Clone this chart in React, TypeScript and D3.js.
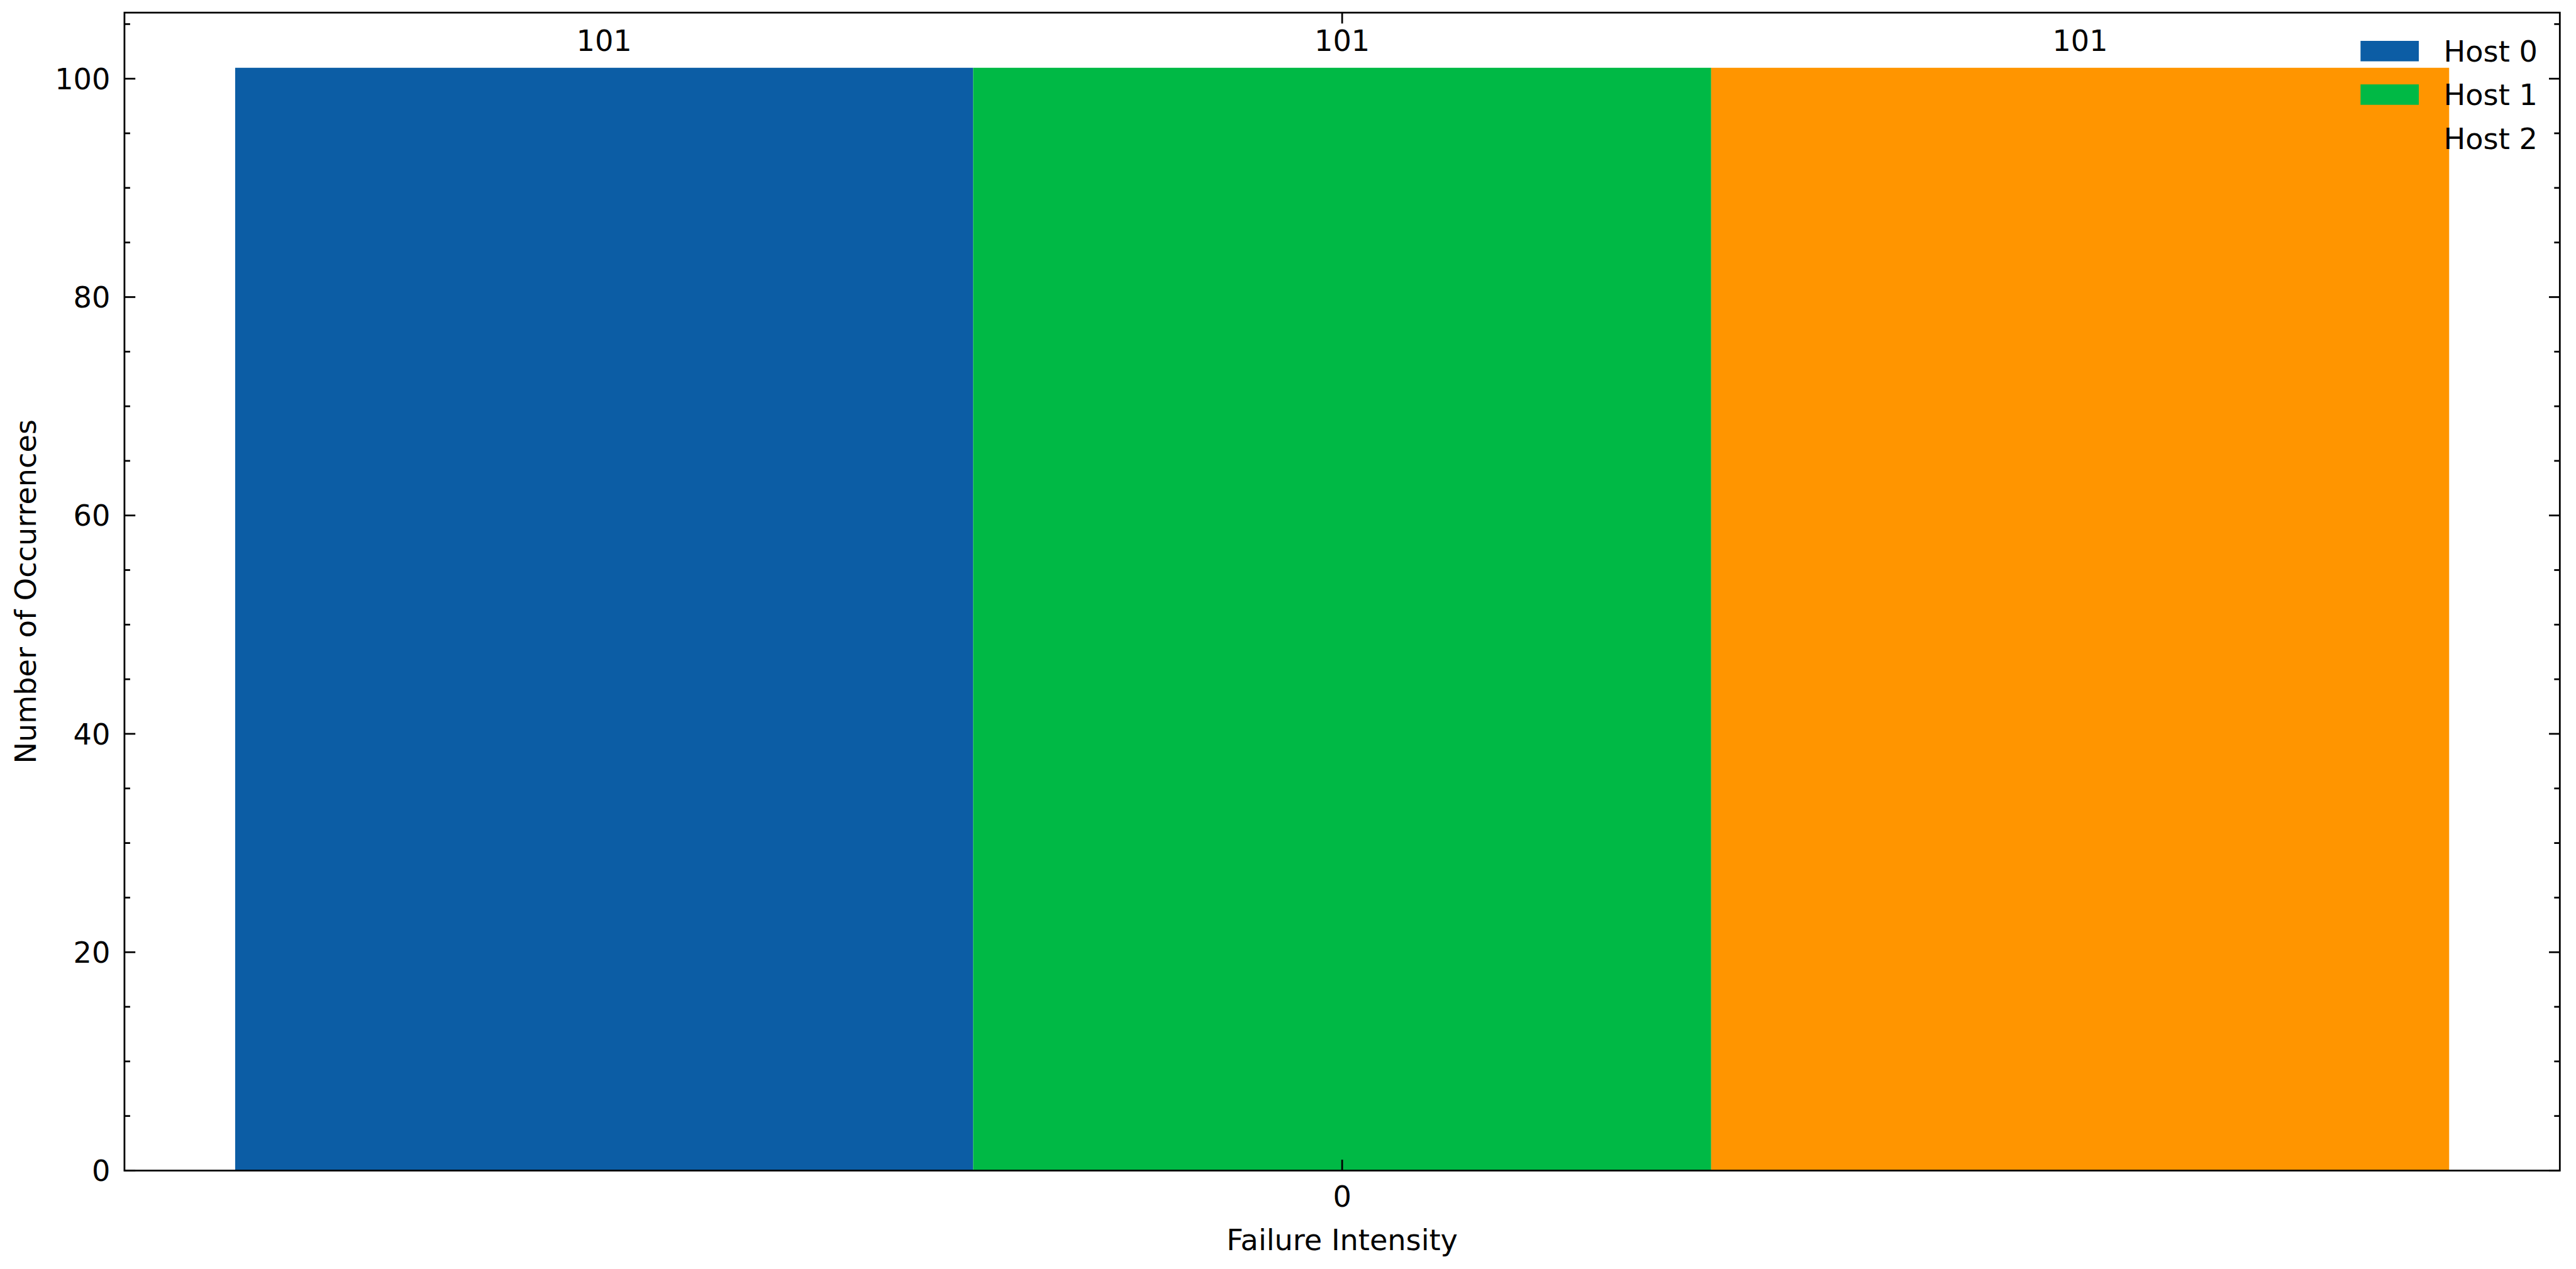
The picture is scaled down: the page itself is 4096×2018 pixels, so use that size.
import React from "react";
import * as d3 from "d3";

// failure intensity categories on the x axis (only one in this run)
const categories = [0];
const hosts = ["Host 0", "Host 1", "Host 2"];
const counts = [101, 101, 101];
const colors = ["#0C5DA5", "#00B945", "#FF9500"];
const yTicks = [0, 20, 40, 60, 80, 100];
const yMinorStep = 5;

const W = 4096;
const H = 2018;
const m = { left: 197.9, right: 4070.3, top: 20.1, bottom: 1861.5 };
const font = "'DejaVu Sans', sans-serif";
const fs = 46.2;
const lw = 2.77;
const majorLen = 17.3;
const minorLen = 9;

export default function App() {
  const barW = 0.25;
  const span = hosts.length * barW;
  const pad = span * 0.05;
  const x = d3
    .scaleLinear()
    .domain([categories[0] - span / 2 - pad, categories[categories.length - 1] + span / 2 + pad])
    .range([m.left, m.right]);
  const yMax = d3.max(counts)! * 1.05;
  const y = d3.scaleLinear().domain([0, yMax]).range([m.bottom, m.top]);

  const minor = d3.range(0, yMax, yMinorStep).filter((v) => !yTicks.includes(v));

  return (
    <svg
      width={W}
      height={H}
      style={{ position: "absolute", left: 0, top: 0, background: "#fff" }}
      fontFamily={font}
    >
      {categories.map((c) =>
        hosts.map((h, i) => {
          const x0 = x(c + (i - (hosts.length - 1) / 2) * barW - barW / 2);
          const x1 = x(c + (i - (hosts.length - 1) / 2) * barW + barW / 2);
          return (
            <g key={`${c}-${h}`}>
              <rect
                x={x0}
                y={y(counts[i])}
                width={x1 - x0}
                height={y(0) - y(counts[i])}
                fill={colors[i]}
              />
              <text
                x={(x0 + x1) / 2}
                y={y(counts[i]) - 26.3}
                textAnchor="middle"
                fontSize={fs}
              >
                {counts[i]}
              </text>
            </g>
          );
        })
      )}

      {/* y ticks, both sides, pointing in */}
      {yTicks.map((t) => (
        <g key={`yt${t}`}>
          <line x1={m.left} x2={m.left + majorLen} y1={y(t)} y2={y(t)} stroke="#000" strokeWidth={lw} />
          <line x1={m.right} x2={m.right - majorLen} y1={y(t)} y2={y(t)} stroke="#000" strokeWidth={lw} />
          <text x={m.left - 22.5} y={y(t)} dy="0.36em" textAnchor="end" fontSize={fs}>
            {t}
          </text>
        </g>
      ))}
      {minor.map((t) => (
        <g key={`ym${t}`}>
          <line x1={m.left} x2={m.left + minorLen} y1={y(t)} y2={y(t)} stroke="#000" strokeWidth={lw} />
          <line x1={m.right} x2={m.right - minorLen} y1={y(t)} y2={y(t)} stroke="#000" strokeWidth={lw} />
        </g>
      ))}

      {/* x ticks, top and bottom */}
      {categories.map((c) => (
        <g key={`xt${c}`}>
          <line x1={x(c)} x2={x(c)} y1={m.bottom} y2={m.bottom - majorLen} stroke="#000" strokeWidth={lw} />
          <line x1={x(c)} x2={x(c)} y1={m.top} y2={m.top + majorLen} stroke="#000" strokeWidth={lw} />
          <text x={x(c)} y={m.bottom + 57.4} textAnchor="middle" fontSize={fs}>
            {c}
          </text>
        </g>
      ))}

      <rect
        x={m.left}
        y={m.top}
        width={m.right - m.left}
        height={m.bottom - m.top}
        fill="none"
        stroke="#000"
        strokeWidth={lw}
      />

      <text x={(m.left + m.right) / 2} y={m.bottom + 126.6} textAnchor="middle" fontSize={fs}>
        Failure Intensity
      </text>
      <text
        transform={`translate(56.7,${(m.top + m.bottom) / 2}) rotate(-90)`}
        textAnchor="middle"
        fontSize={fs}
      >
        Number of Occurrences
      </text>

      {/* legend, no frame */}
      {hosts.map((h, i) => (
        <g key={`lg${h}`} transform={`translate(0,${i * 69.2})`}>
          <rect x={3753.4} y={65} width={92.7} height={32.5} fill={colors[i]} />
          <text x={3885.6} y={98.3} fontSize={fs}>
            {h}
          </text>
        </g>
      ))}
    </svg>
  );
}
